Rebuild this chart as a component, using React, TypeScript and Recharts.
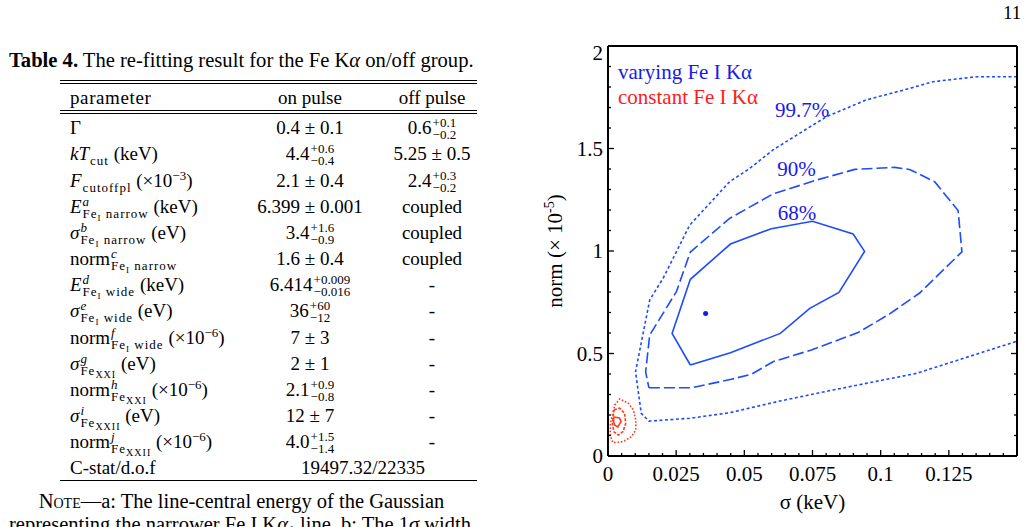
import React from "react";
import { ComposedChart, Line, XAxis, YAxis, ReferenceDot } from "recharts";

const FONT = '"Liberation Serif", "Times New Roman", serif';
const BLUE_LINE = "#1d4bff";
const BLUE_TEXT = "#1818f0";
const RED_LINE = "#ff3a20";
const RED_TEXT = "#ff1a1a";

// axis ticks (minor every 0.005 / 0.1, labelled majors)
const xTicks = [
  0, 0.005, 0.01, 0.015, 0.02, 0.025, 0.03, 0.035, 0.04, 0.045, 0.05, 0.055, 0.06, 0.065, 0.07,
  0.075, 0.08, 0.085, 0.09, 0.095, 0.1, 0.105, 0.11, 0.115, 0.12, 0.125, 0.13, 0.135, 0.14, 0.145,
  0.15,
];
const xMajor = [0, 0.025, 0.05, 0.075, 0.1, 0.125, 0.15];
const xMajorLabels = ["0", "0.025", "0.05", "0.075", "0.1", "0.125", ""];
const yTicks = [
  0, 0.1, 0.2, 0.3, 0.4, 0.5, 0.6, 0.7, 0.8, 0.9, 1, 1.1, 1.2, 1.3, 1.4, 1.5, 1.6, 1.7, 1.8, 1.9, 2,
];
const yMajor = [0, 0.5, 1, 1.5, 2];
const yMajorLabels = ["0", "0.5", "1", "1.5", "2"];

// varying Fe I Kα contours (σ keV, norm ×1e-5)
const contour68 = [
  { x: 0.0302, y: 0.444 }, { x: 0.0449, y: 0.504 }, { x: 0.0632, y: 0.598 }, { x: 0.074, y: 0.72 },
  { x: 0.0847, y: 0.798 }, { x: 0.0941, y: 0.998 }, { x: 0.0899, y: 1.083 }, { x: 0.075, y: 1.145 },
  { x: 0.0599, y: 1.109 }, { x: 0.0449, y: 1.034 }, { x: 0.0302, y: 0.862 }, { x: 0.0235, y: 0.598 },
  { x: 0.0302, y: 0.444 },
];
const contour90 = [
  { x: 0.015, y: 0.333 }, { x: 0.0306, y: 0.333 }, { x: 0.0452, y: 0.374 }, { x: 0.0528, y: 0.4 },
  { x: 0.0605, y: 0.46 }, { x: 0.0746, y: 0.517 }, { x: 0.0917, y: 0.602 }, { x: 0.1033, y: 0.693 },
  { x: 0.1143, y: 0.795 }, { x: 0.1298, y: 0.996 }, { x: 0.1284, y: 1.197 }, { x: 0.1198, y: 1.338 },
  { x: 0.1106, y: 1.398 }, { x: 0.1051, y: 1.408 }, { x: 0.0905, y: 1.398 }, { x: 0.0764, y: 1.346 },
  { x: 0.0605, y: 1.278 }, { x: 0.0446, y: 1.159 }, { x: 0.0302, y: 0.995 }, { x: 0.0251, y: 0.802 },
  { x: 0.0153, y: 0.59 }, { x: 0.0138, y: 0.41 }, { x: 0.015, y: 0.333 },
];
const contour997 = [
  { x: 0.15, y: 1.85 }, { x: 0.1351, y: 1.85 }, { x: 0.1192, y: 1.826 }, { x: 0.1106, y: 1.793 },
  { x: 0.0947, y: 1.737 }, { x: 0.0801, y: 1.655 }, { x: 0.0752, y: 1.615 }, { x: 0.0605, y: 1.493 },
  { x: 0.052, y: 1.403 }, { x: 0.0446, y: 1.338 }, { x: 0.03, y: 1.127 }, { x: 0.0202, y: 0.867 },
  { x: 0.0153, y: 0.761 }, { x: 0.0101, y: 0.411 }, { x: 0.0122, y: 0.208 }, { x: 0.015, y: 0.17 },
  { x: 0.03, y: 0.184 }, { x: 0.0446, y: 0.211 }, { x: 0.063, y: 0.268 }, { x: 0.0825, y: 0.322 },
  { x: 0.1131, y: 0.403 }, { x: 0.15, y: 0.56 },
];
const bestFit = { x: 0.0358, y: 0.695 };

// constant Fe I Kα contours
const redInner = [
  { x: 0.0022, y: 0.19 }, { x: 0.0042, y: 0.186 }, { x: 0.0048, y: 0.168 }, { x: 0.0036, y: 0.142 },
  { x: 0.0025, y: 0.15 }, { x: 0.002, y: 0.17 }, { x: 0.0022, y: 0.19 },
];
const redMid = [
  { x: 0.0022, y: 0.225 }, { x: 0.0043, y: 0.233 }, { x: 0.0061, y: 0.208 }, { x: 0.0065, y: 0.159 },
  { x: 0.0055, y: 0.119 }, { x: 0.0037, y: 0.102 }, { x: 0.0022, y: 0.118 }, { x: 0.0016, y: 0.16 },
  { x: 0.0022, y: 0.225 },
];
const redOuter = [
  { x: 0.0019, y: 0.216 }, { x: 0.0025, y: 0.249 }, { x: 0.0043, y: 0.278 }, { x: 0.0075, y: 0.257 },
  { x: 0.0093, y: 0.224 }, { x: 0.0102, y: 0.176 }, { x: 0.0102, y: 0.127 }, { x: 0.0086, y: 0.094 },
  { x: 0.0055, y: 0.07 }, { x: 0.0018, y: 0.065 }, { x: 0.0008, y: 0.1 }, { x: 0.0009, y: 0.16 },
  { x: 0.0019, y: 0.216 },
];

const contourLabels = [
  { x: 0.0712, y: 1.688, text: "99.7%" },
  { x: 0.0691, y: 1.4, text: "90%" },
  { x: 0.0693, y: 1.19, text: "68%" },
];

// Table 4 contents
const paramRows = [
  { base: "Γ" },
  { base: "kT", it: true, sub: "cut", unit: "(keV)" },
  { base: "F", it: true, sub: "cutoffpl", exp: "−3" },
  { base: "E", it: true, sup: "a", ion: "I", rest: " narrow", unit: "(keV)" },
  { base: "σ", it: true, sup: "b", ion: "I", rest: " narrow", unit: "(eV)" },
  { base: "norm", sup: "c", ion: "I", rest: " narrow" },
  { base: "E", it: true, sup: "d", ion: "I", rest: " wide", unit: "(keV)" },
  { base: "σ", it: true, sup: "e", ion: "I", rest: " wide", unit: "(eV)" },
  { base: "norm", sup: "f", ion: "I", rest: " wide", exp: "−6" },
  { base: "σ", it: true, sup: "g", ion: "XXI", unit: "(eV)" },
  { base: "norm", sup: "h", ion: "XXI", exp: "−6" },
  { base: "σ", it: true, sup: "i", ion: "XXII", unit: "(eV)" },
  { base: "norm", sup: "j", ion: "XXII", exp: "−6" },
];
const onPulse = [
  { v: "0.4 ± 0.1" },
  { v: "4.4", up: "+0.6", lo: "−0.4" },
  { v: "2.1 ± 0.4" },
  { v: "6.399 ± 0.001" },
  { v: "3.4", up: "+1.6", lo: "−0.9" },
  { v: "1.6 ± 0.4" },
  { v: "6.414", up: "+0.009", lo: "−0.016" },
  { v: "36", up: "+60", lo: "−12" },
  { v: "7 ± 3" },
  { v: "2 ± 1" },
  { v: "2.1", up: "+0.9", lo: "−0.8" },
  { v: "12 ± 7" },
  { v: "4.0", up: "+1.5", lo: "−1.4" },
];
const offPulse = [
  { v: "0.6", up: "+0.1", lo: "−0.2" },
  { v: "5.25 ± 0.5" },
  { v: "2.4", up: "+0.3", lo: "−0.2" },
  { v: "coupled" },
  { v: "coupled" },
  { v: "coupled" },
  { v: "-" },
  { v: "-" },
  { v: "-" },
  { v: "-" },
  { v: "-" },
  { v: "-" },
  { v: "-" },
];
const cstat = "19497.32/22335";

function majorLabel(v: number, majors: number[], labels: string[]) {
  const i = majors.findIndex((m) => Math.abs(m - v) < 1e-9);
  return i < 0 ? null : labels[i];
}

function BottomTick({ x, y, payload }: any) {
  const label = majorLabel(payload.value, xMajor, xMajorLabels);
  return (
    <g>
      <line x1={x} x2={x} y1={y} y2={y - (label !== null ? 6 : 3)} stroke="#000" strokeWidth={1.3} />
      {label && (
        <text x={x} y={y + 25} textAnchor="middle" fontSize={21} fontFamily={FONT} fill="#000">
          {label}
        </text>
      )}
    </g>
  );
}

function TopTick({ x, y, payload }: any) {
  const major = majorLabel(payload.value, xMajor, xMajorLabels) !== null;
  return <line x1={x} x2={x} y1={y} y2={y + (major ? 6 : 3)} stroke="#000" strokeWidth={1.3} />;
}

function LeftTick({ x, y, payload }: any) {
  const label = majorLabel(payload.value, yMajor, yMajorLabels);
  const dy = payload.value === 2 ? 14 : 7;
  return (
    <g>
      <line x1={x} x2={x + (label !== null ? 6 : 3)} y1={y} y2={y} stroke="#000" strokeWidth={1.3} />
      {label && (
        <text x={x - 5} y={y + dy} textAnchor="end" fontSize={21} fontFamily={FONT} fill="#000">
          {label}
        </text>
      )}
    </g>
  );
}

function RightTick({ x, y, payload }: any) {
  const major = majorLabel(payload.value, yMajor, yMajorLabels) !== null;
  return <line x1={x} x2={x - (major ? 6 : 3)} y1={y} y2={y} stroke="#000" strokeWidth={1.3} />;
}

function XTitle({ viewBox }: any) {
  const cx = viewBox.x + viewBox.width / 2;
  return (
    <text x={cx} y={viewBox.y + 53} textAnchor="middle" fontSize={21} fontFamily={FONT} fill="#000">
      σ (keV)
    </text>
  );
}

function YTitle({ viewBox }: any) {
  const cx = viewBox.x + 22;
  const cy = viewBox.y + viewBox.height / 2;
  return (
    <text
      x={cx}
      y={cy}
      transform={`rotate(-90 ${cx} ${cy})`}
      textAnchor="middle"
      fontSize={21}
      fontFamily={FONT}
      fill="#000"
    >
      norm (× 10
      <tspan dy={-8} fontSize={14}>
        -5
      </tspan>
      <tspan dy={8}>)</tspan>
    </text>
  );
}

function ContourChart() {
  const lineProps = {
    xAxisId: "b",
    yAxisId: "l",
    dataKey: "y",
    type: "linear" as const,
    dot: false,
    activeDot: false,
    isAnimationActive: false,
    strokeWidth: 1.6,
  };
  return (
    <ComposedChart width={488} height={491} margin={{ top: 1, right: 1, bottom: 1, left: 0 }}>
      <XAxis
        xAxisId="b"
        dataKey="x"
        type="number"
        domain={[0, 0.15]}
        allowDataOverflow
        ticks={xTicks}
        interval={0}
        tick={<BottomTick />}
        tickLine={false}
        tickSize={0}
        tickMargin={0}
        axisLine={{ stroke: "#000", strokeWidth: 2 }}
        height={70}
        label={<XTitle />}
      />
      <XAxis
        xAxisId="t"
        orientation="top"
        type="number"
        domain={[0, 0.15]}
        allowDataOverflow
        ticks={xTicks}
        interval={0}
        tick={<TopTick />}
        tickLine={false}
        tickSize={0}
        tickMargin={0}
        axisLine={{ stroke: "#000", strokeWidth: 2 }}
        height={9}
      />
      <YAxis
        yAxisId="l"
        dataKey="y"
        type="number"
        domain={[0, 2]}
        allowDataOverflow
        ticks={yTicks}
        interval={0}
        tick={<LeftTick />}
        tickLine={false}
        tickSize={0}
        tickMargin={0}
        axisLine={{ stroke: "#000", strokeWidth: 2 }}
        width={68}
        label={<YTitle />}
      />
      <YAxis
        yAxisId="r"
        orientation="right"
        type="number"
        domain={[0, 2]}
        allowDataOverflow
        ticks={yTicks}
        interval={0}
        tick={<RightTick />}
        tickLine={false}
        tickSize={0}
        tickMargin={0}
        axisLine={{ stroke: "#000", strokeWidth: 2 }}
        width={10}
      />
      <Line {...lineProps} data={contour997} stroke={BLUE_LINE} strokeDasharray="3 2.5" />
      <Line {...lineProps} data={contour90} stroke={BLUE_LINE} strokeDasharray="11 4" />
      <Line {...lineProps} data={contour68} stroke={BLUE_LINE} />
      <Line {...lineProps} data={redOuter} stroke={RED_LINE} strokeDasharray="1.6 1.8" />
      <Line {...lineProps} data={redMid} stroke={RED_LINE} strokeDasharray="3 1.5" />
      <Line {...lineProps} data={redInner} stroke={RED_LINE} />
      <ReferenceDot xAxisId="b" yAxisId="l" x={bestFit.x} y={bestFit.y} r={2.5} fill={BLUE_TEXT} stroke="none" />
      {contourLabels.map((c) => (
        <ReferenceDot
          key={c.text}
          xAxisId="b"
          yAxisId="l"
          x={c.x}
          y={c.y}
          r={1}
          fill="none"
          stroke="none"
          label={{ value: c.text, position: "center", fill: BLUE_TEXT, fontSize: 21, fontFamily: FONT }}
        />
      ))}
    </ComposedChart>
  );
}

function Script({
  sup,
  sub,
  size = 13,
  spacing = 0,
}: {
  sup?: React.ReactNode;
  sub?: React.ReactNode;
  size?: number;
  spacing?: number;
}) {
  return (
    <span
      style={{
        display: "inline-block",
        verticalAlign: -5,
        lineHeight: "12px",
        fontSize: size,
        letterSpacing: spacing,
        textAlign: "left",
        marginLeft: 1,
      }}
    >
      <span style={{ display: "block" }}>{sup ?? "\u00a0"}</span>
      <span style={{ display: "block" }}>{sub ?? "\u00a0"}</span>
    </span>
  );
}

function ParamCell({ p }: { p: any }) {
  const sub = p.ion ? (
    <>
      Fe<span style={{ fontSize: p.ion === "I" ? 9 : 10, verticalAlign: -3 }}>{p.ion}</span>
      {p.rest ?? ""}
    </>
  ) : (
    p.sub
  );
  return (
    <span>
      {p.it ? <i>{p.base}</i> : p.base}
      {(p.sup || sub) && <Script sup={p.sup && <i>{p.sup}</i>} sub={sub} spacing={1} />}
      {p.unit && <> {p.unit}</>}
      {p.exp && (
        <>
          {" "}(×10<sup style={{ fontSize: 13, verticalAlign: 7, lineHeight: 0 }}>{p.exp}</sup>)
        </>
      )}
    </span>
  );
}

function ValueCell({ c }: { c: any }) {
  if (!c.up) return <span>{c.v}</span>;
  return (
    <span>
      {c.v}
      <Script sup={c.up} sub={c.lo} />
    </span>
  );
}

const ROW0 = 128.3;
const ROW_STEP = 26.15;

function Table() {
  const cell = (top: number, left: number, width: number, align: any, content: React.ReactNode, key: string) => (
    <div
      key={key}
      style={{
        position: "absolute",
        top: top - 13,
        left,
        width,
        height: 26,
        lineHeight: "26px",
        textAlign: align,
        whiteSpace: "nowrap",
      }}
    >
      {content}
    </div>
  );
  const rule = (top: number, key: string) => (
    <div key={key} style={{ position: "absolute", top, left: 60, width: 417, height: 1, background: "#000" }} />
  );
  return (
    <div style={{ position: "absolute", left: 0, top: 0, fontFamily: FONT, fontSize: 19, color: "#000" }}>
      <div style={{ position: "absolute", top: 47, left: 9, whiteSpace: "nowrap", lineHeight: "26px", fontSize: 20.6 }}>
        <b>Table 4.</b> The re-fitting result for the Fe K<i>α</i> on/off group.
      </div>
      {rule(80, "r1")}
      {rule(83, "r2")}
      {cell(98.3, 70, 200, "left", <span style={{ letterSpacing: 0.6 }}>parameter</span>, "h1")}
      {cell(98.3, 210, 200, "center", "on pulse", "h2")}
      {cell(98.3, 332, 200, "center", "off pulse", "h3")}
      {rule(110, "r3")}
      {rule(113, "r4")}
      {paramRows.map((p, i) => cell(ROW0 + i * ROW_STEP, 70, 200, "left", <ParamCell p={p} />, "p" + i))}
      {onPulse.map((c, i) => cell(ROW0 + i * ROW_STEP, 210, 200, "center", <ValueCell c={c} />, "o" + i))}
      {offPulse.map((c, i) => cell(ROW0 + i * ROW_STEP, 332, 200, "center", <ValueCell c={c} />, "f" + i))}
      {cell(ROW0 + 13 * ROW_STEP, 70, 200, "left", "C-stat/d.o.f", "cs1")}
      {cell(ROW0 + 13 * ROW_STEP, 263, 200, "center", cstat, "cs2")}
      {rule(480, "r5")}
      <div
        style={{
          position: "absolute",
          top: 489,
          left: 0,
          width: 483,
          textAlign: "center",
          whiteSpace: "nowrap",
          lineHeight: "25px",
          fontSize: 20.5,
        }}
      >
        <span style={{ fontVariant: "small-caps" }}>Note</span>—a: The line-central energy of the Gaussian
      </div>
      <div
        style={{
          position: "absolute",
          top: 512,
          left: 0,
          width: 480,
          textAlign: "center",
          whiteSpace: "nowrap",
          lineHeight: "25px",
          fontSize: 20.5,
        }}
      >
        representing the narrower Fe I K<i>α</i>
        <sub style={{ fontSize: 14 }}>1</sub> line. b: The 1<i>σ</i> width
      </div>
    </div>
  );
}

export default function App() {
  return (
    <div
      style={{
        position: "absolute",
        left: 0,
        top: 0,
        width: 1028,
        height: 527,
        overflow: "hidden",
        background: "#fff",
        fontFamily: FONT,
      }}
    >
      <div style={{ position: "absolute", left: 1003, top: 2, fontSize: 19, fontFamily: FONT }}>11</div>
      <Table />
      <div style={{ position: "absolute", left: 540, top: 36 }}>
        <ContourChart />
      </div>
      <div style={{ position: "absolute", left: 618, top: 60, fontSize: 21, lineHeight: "25px", fontFamily: FONT }}>
        <div style={{ color: BLUE_TEXT }}>varying Fe I Kα</div>
        <div style={{ color: RED_TEXT }}>constant Fe I Kα</div>
      </div>
    </div>
  );
}
